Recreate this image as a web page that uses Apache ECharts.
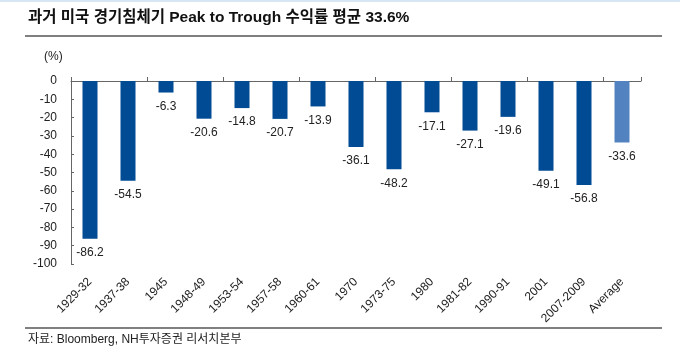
<!DOCTYPE html>
<html><head><meta charset="utf-8">
<script src="https://cdn.jsdelivr.net/npm/echarts@6/dist/echarts.min.js"></script>
<style>html,body{margin:0;padding:0;background:#fff}#c{width:680px;height:363px}</style>
</head><body><div id="c"></div>
<script>
var categories = ['1929-32','1937-38','1945','1948-49','1953-54','1957-58','1960-61','1970','1973-75','1980','1981-82','1990-91','2001','2007-2009','Average'];
var values = [-86.2,-54.5,-6.3,-20.6,-14.8,-20.7,-13.9,-36.1,-48.2,-17.1,-27.1,-19.6,-49.1,-56.8,-33.6];
var titleText = '과거 미국 경기침체기 Peak to Trough 수익률 평균 33.6%';
var sourceText = '자료: Bloomberg, NH투자증권 리서치본부';
var unitText = '(%)';

var font = '"Liberation Sans", Arial, sans-serif';
var mixFont = '"Liberation Sans", "Noto Sans CJK KR", sans-serif';
var chart = echarts.init(document.getElementById('c'));
var data = values.map(function(v, i){
  return {value: v, itemStyle: {color: categories[i] === 'Average' ? '#5282BF' : '#004B93'}};
});
chart.setOption({
  animation: false,
  textStyle: {fontFamily: font},
  grid: {left: 71, right: 39, top: 81, bottom: 99},
  xAxis: [{
    type: 'category', data: categories, position: 'top',
    axisLine: {show: true, lineStyle: {color: '#666', width: 1}},
    axisTick: {show: true, length: 4, lineStyle: {color: '#666'}},
    axisLabel: {show: false}
  },{
    type: 'category', data: categories, position: 'bottom',
    axisLine: {show: false}, axisTick: {show: false},
    axisLabel: {rotate: 45, fontSize: 12, color: '#222', margin: 16, fontFamily: font}
  }],
  yAxis: {
    type: 'value', min: -100, max: 0, interval: 10,
    axisLine: {show: true, lineStyle: {color: '#666'}},
    axisTick: {show: true, inside: true, length: 3, lineStyle: {color: '#666'}},
    splitLine: {show: false},
    axisLabel: {fontSize: 12, color: '#222', margin: 14, fontFamily: font}
  },
  series: [{
    type: 'bar', data: data, barWidth: 15, xAxisIndex: 0,
    label: {show: true, position: 'bottom', distance: 8, fontSize: 12, color: '#222', fontFamily: font,
      formatter: function(p){ return p.value.toFixed(1); }}
  }],
  graphic: [
    {type: 'rect', shape: {x: 0, y: 0, width: 680, height: 2}, style: {fill: '#d6e6f5'}},
    {type: 'text', left: 28, top: 10, style: {text: titleText, font: 'bold 15.5px ' + mixFont, fill: '#111'}},
    {type: 'rect', shape: {x: 25, y: 35, width: 637, height: 2}, style: {fill: '#808080'}},
    {type: 'text', left: 44, top: 51, style: {text: unitText, font: '12px ' + font, fill: '#222'}},
    {type: 'rect', shape: {x: 25, y: 327, width: 637, height: 2}, style: {fill: '#808080'}},
    {type: 'text', left: 28, top: 334, style: {text: sourceText, font: '12px ' + mixFont, fill: '#222'}}
  ]
});
</script></body></html>
